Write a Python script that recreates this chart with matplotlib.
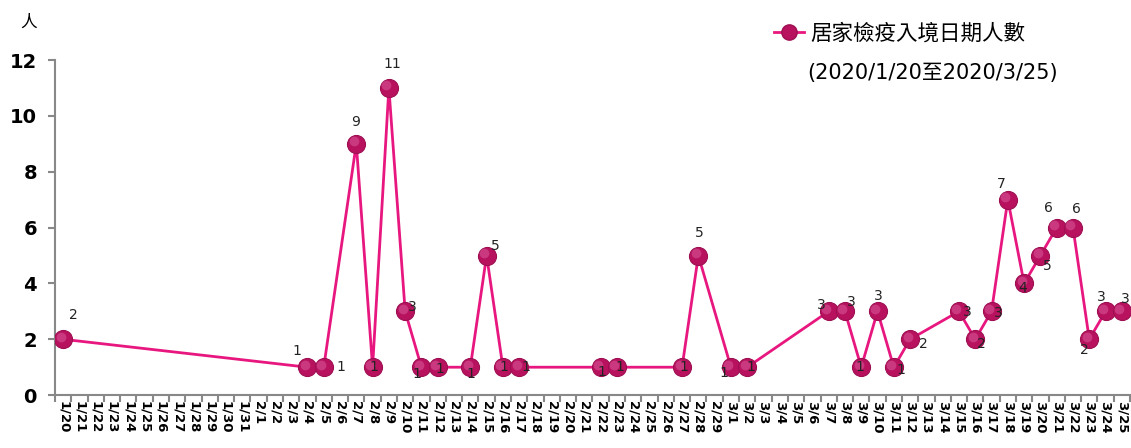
import datetime as dt
import matplotlib
matplotlib.use("Agg")
import matplotlib.pyplot as plt
import matplotlib.transforms as mtransforms
from matplotlib.lines import Line2D

plt.rcParams['font.family'] = ['DejaVu Sans', 'Noto Sans CJK TC']

# === data ===
START = dt.date(2020, 1, 20)
END = dt.date(2020, 3, 25)
date_labels = []
d = START
while d <= END:
    date_labels.append(f"{d.month}/{d.day}")
    d += dt.timedelta(days=1)

point_dates = ["1/20", "2/4", "2/5", "2/7", "2/8", "2/9", "2/10", "2/11", "2/12",
               "2/14", "2/15", "2/16", "2/17", "2/22", "2/23", "2/27", "2/28",
               "3/1", "3/2", "3/7", "3/8", "3/9", "3/10", "3/11", "3/12",
               "3/15", "3/16", "3/17", "3/18", "3/19", "3/20", "3/21", "3/22",
               "3/23", "3/24", "3/25"]
counts = [2, 1, 1, 9, 1, 11, 3, 1, 1,
          1, 5, 1, 1, 1, 1, 1, 5,
          1, 1, 3, 3, 1, 3, 1, 2,
          3, 2, 3, 7, 4, 5, 6, 6,
          2, 3, 3]

# label offsets in pixels (dx, dy) relative to each point
label_offsets = [(10, 24), (-11, 16), (17, 0), (-1, 22), (1, 0), (3, 24), (7, 4), (-5, -7), (2, -2),
                 (1, -7), (9, 10), (1, 0), (7, 0), (1, -5), (3, 0), (2, 0), (1, 23),
                 (-7, -6), (4, 0), (-7, 6), (6, 9), (-1, 0), (1, 15), (7, -3), (13, -5),
                 (8, -1), (6, -5), (7, -2), (-7, 16), (-1, -5), (7, -10), (-8, 20), (3, 19),
                 (-5, -11), (-4, 14), (3, 12)]

LINE_COLOR = '#E8177F'
MARKER_COLOR = '#B8125F'

fig = plt.figure(figsize=(11.31, 4.48), dpi=100)
ax = fig.add_axes([0.0486, 0.118, 0.9505, 0.748])

xs = [date_labels.index(p) for p in point_dates]
ax.plot(xs, counts, color=LINE_COLOR, lw=2, marker='o', markersize=13,
        markerfacecolor=MARKER_COLOR, markeredgecolor='#9E0F52', markeredgewidth=0.8, zorder=3)
# soft highlight up-left to mimic the shaded sphere markers
hl = mtransforms.offset_copy(ax.transData, fig=fig, x=-2.5, y=2.5, units='dots')
ax.plot(xs, counts, ls='none', marker='o', markersize=7, markerfacecolor='#E06AA8',
        markeredgewidth=0, alpha=0.45, zorder=4, transform=hl)

for x, y, (dx, dy) in zip(xs, counts, label_offsets):
    ax.annotate(str(y), (x, y), xytext=(dx, dy), textcoords='offset pixels',
                ha='center', va='center', fontsize=10, color='#222222', zorder=5)

ax.set_xlim(-0.5, len(date_labels) - 0.5)
ax.set_ylim(0, 12)
ax.set_yticks(range(0, 13, 2))
ax.set_yticklabels([str(v) for v in range(0, 13, 2)], fontsize=14, fontweight='bold')

ax.set_xticks([i - 0.5 for i in range(len(date_labels) + 1)])
ax.set_xticklabels([])
ax.set_xticks(range(len(date_labels)), minor=True)
ax.set_xticklabels(date_labels, minor=True, rotation=270, fontsize=9.5,
                   fontweight='bold', va='top', ha='center')
ax.tick_params(axis='x', which='minor', length=0, pad=4)
ax.tick_params(axis='x', which='major', length=5, width=1.5, color='#888888')
ax.tick_params(axis='y', length=5, width=1.5, color='#888888', pad=8)

for side in ['top', 'right']:
    ax.spines[side].set_visible(False)
for side in ['left', 'bottom']:
    ax.spines[side].set_color('#888888')
    ax.spines[side].set_linewidth(1.5)

fig.text(0.018, 0.95, '人', family=['Noto Sans CJK TC'], fontsize=12, va='center')

# legend
handle = Line2D([], [], color=LINE_COLOR, lw=2, marker='o', markersize=11,
                markerfacecolor=MARKER_COLOR, markeredgecolor='#9E0F52')
fig.legend([handle], ['居家檢疫入境日期人數'], loc='center left',
           bbox_to_anchor=(0.667, 0.926), frameon=False, handlelength=1.4,
           handletextpad=0.3, prop={'family': ['Noto Sans CJK TC'], 'size': 15.5})
fig.text(0.714, 0.836, '(2020/1/20至2020/3/25)', family=['DejaVu Sans', 'Noto Sans CJK TC'],
         fontsize=15, va='center')

fig.savefig('out.png', dpi=100)
